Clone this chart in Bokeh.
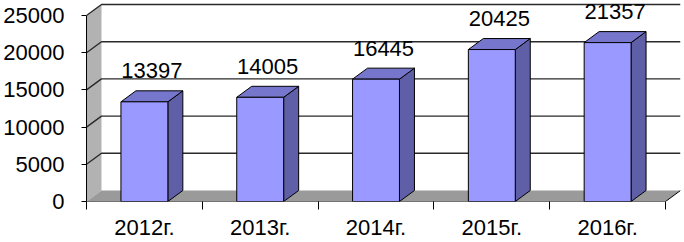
from bokeh.plotting import figure
from bokeh.models import ColumnDataSource, FixedTicker, LinearAxis, Range1d, LabelSet
from bokeh.core.properties import value
from bokeh.embed import file_html
from bokeh.resources import INLINE

# ---- data ----
years = ["2012г.", "2013г.", "2014г.", "2015г.", "2016г."]
values = [13397, 14005, 16445, 20425, 21357]
y_ticks = [0, 5000, 10000, 15000, 20000, 25000]

# ---- geometry (screen px) ----
FRAME_W, FRAME_H = 595, 201
TOP_PAD = 4
DEPTH_X, DEPTH_Y = 15, 11
BAR_PX = 47
LABEL_GAP_PX = 20
FONT = "Liberation Sans"
FS = "22px"

n = len(years)
y_max = y_ticks[-1]
kx = (FRAME_W - DEPTH_X) / n                      # px per category
ky = (FRAME_H - TOP_PAD - DEPTH_Y) / y_max        # px per unit
dx = DEPTH_X / kx
dy = DEPTH_Y / ky
y_end = FRAME_H / ky
bw = BAR_PX / kx

p = figure(width=684, height=242, output_backend="svg", toolbar_location=None,
           x_range=Range1d(0, n + dx), y_range=Range1d(0, y_end),
           x_axis_type=None, y_axis_type=None,
           min_border_left=85, min_border_right=4, min_border_top=0, min_border_bottom=41)
p.outline_line_color = None
p.background_fill_color = "white"
p.border_fill_color = "white"

# back wall
p.patch([dx, n + dx, n + dx, dx], [dy, dy, y_max + dy, y_max + dy],
        fill_color="white", line_color=None)
# left side wall
p.patch([0, dx, dx, 0], [0, dy, y_max + dy, y_max],
        fill_color="#b2b2b2", line_color=None)
# floor
p.patch([0, n, n + dx, dx], [0, 0, dy, dy], fill_color="#9a9a9a", line_color=None)
p.line([0, n, n + dx], [0, 0, dy], line_color="#000000", line_width=1)

# gridlines across left wall and back wall
gx, gy = [], []
for v in y_ticks[1:]:
    gx.append([0, dx, n + dx])
    gy.append([v, v + dy, v + dy])
p.multi_line(gx, gy, line_color="#2a2a2a", line_width=1.4)

# bars
centers = [i + 0.5 for i in range(n)]
x0 = [c - bw / 2 for c in centers]
x1 = [c + bw / 2 for c in centers]
side_xs = [[a, a + dx, a + dx, a] for a in x1]
side_ys = [[0, dy, v + dy, v] for v in values]
top_xs = [[a, b, b + dx, a + dx] for a, b in zip(x0, x1)]
top_ys = [[v, v, v + dy, v + dy] for v in values]
p.patches(side_xs, side_ys, fill_color="#5f5fa8", line_color="#000000", line_width=1)
p.patches(top_xs, top_ys, fill_color="#7676cc", line_color="#000000", line_width=1)
p.quad(left=x0, right=x1, bottom=0, top=values,
       fill_color="#9999ff", line_color="#000000", line_width=1)

# data labels
lab_src = ColumnDataSource(dict(
    x=[c + dx / 2 for c in centers],
    y=[v + dy + LABEL_GAP_PX / ky for v in values],
    t=[str(v) for v in values]))
p.add_layout(LabelSet(x="x", y="y", text="t", source=lab_src,
                      text_align="center", text_baseline="middle",
                      text_font=value(FONT), text_font_size=value(FS),
                      text_color="#000000"))

# y axis
yaxis = LinearAxis(ticker=FixedTicker(ticks=y_ticks), bounds=(0, y_max),
                   axis_line_color="#000000", major_tick_out=5, major_tick_in=0,
                   minor_tick_out=0, minor_tick_in=0,
                   major_label_standoff=17,
                   major_label_text_font=FONT, major_label_text_font_size=FS,
                   major_label_text_color="#000000")
p.add_layout(yaxis, "left")

# x axis
xaxis = LinearAxis(ticker=FixedTicker(ticks=centers, minor_ticks=list(range(n + 1))),
                   major_label_overrides={c: y for c, y in zip(centers, years)},
                   axis_line_color=None, major_tick_out=0, major_tick_in=0,
                   minor_tick_out=8, minor_tick_in=0, minor_tick_line_color="#000000",
                   major_label_standoff=5,
                   major_label_text_font=FONT, major_label_text_font_size=FS,
                   major_label_text_color="#000000")
p.add_layout(xaxis, "below")

open("out.html", "w").write(file_html(p, INLINE))
